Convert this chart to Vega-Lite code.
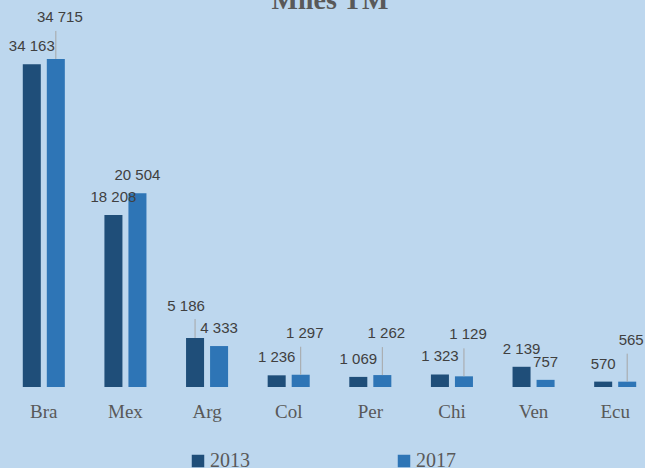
{
  "$schema": "https://vega.github.io/schema/vega-lite/v6.json",
  "autosize": "none",
  "width": 642,
  "height": 378,
  "padding": {"left": 3, "top": 9, "right": 0, "bottom": 81},
  "background": "#BDD7EE",
  "title": {
    "text": "Miles TM",
    "font": "Liberation Serif",
    "fontSize": 28,
    "fontWeight": "bold",
    "color": "#595959",
    "baseline": "alphabetic",
    "frame": "group",
    "offset": -28,
    "dx": 6,
    "anchor": "middle"
  },
  "data": {
    "values": [
      {"country": "Bra", "year": "2013", "value": 34163},
      {"country": "Bra", "year": "2017", "value": 34715},
      {"country": "Mex", "year": "2013", "value": 18208},
      {"country": "Mex", "year": "2017", "value": 20504},
      {"country": "Arg", "year": "2013", "value": 5186},
      {"country": "Arg", "year": "2017", "value": 4333},
      {"country": "Col", "year": "2013", "value": 1236},
      {"country": "Col", "year": "2017", "value": 1297},
      {"country": "Per", "year": "2013", "value": 1069},
      {"country": "Per", "year": "2017", "value": 1262},
      {"country": "Chi", "year": "2013", "value": 1323},
      {"country": "Chi", "year": "2017", "value": 1129},
      {"country": "Ven", "year": "2013", "value": 2139},
      {"country": "Ven", "year": "2017", "value": 757},
      {"country": "Ecu", "year": "2013", "value": 570},
      {"country": "Ecu", "year": "2017", "value": 565}
    ]
  },
  "encoding": {
    "x": {
      "field": "country",
      "type": "nominal",
      "sort": ["Bra", "Mex", "Arg", "Col", "Per", "Chi", "Ven", "Ecu"],
      "scale": {"range": [0, 653], "paddingInner": 0.485, "paddingOuter": 0.2425},
      "axis": {
        "title": null,
        "domain": false,
        "ticks": false,
        "labelAngle": 0,
        "labelPadding": 15,
        "labelFont": "Liberation Serif",
        "labelFontSize": 19,
        "labelColor": "#595959"
      }
    },
    "xOffset": {
      "field": "year",
      "type": "nominal",
      "scale": {"paddingInner": 0.25}
    },
    "y": {
      "field": "value",
      "type": "quantitative",
      "scale": {"domain": [0, 40000]},
      "axis": null
    }
  },
  "layer": [
    {
      "mark": {"type": "bar"},
      "encoding": {
        "color": {
          "field": "year",
          "type": "nominal",
          "scale": {"domain": ["2013", "2017"], "range": ["#1F4E79", "#2E75B6"]},
          "legend": {
            "title": null,
            "orient": "none",
            "direction": "horizontal",
            "legendX": 185,
            "legendY": 442,
            "padding": 0,
            "symbolType": "square",
            "symbolSize": 156,
            "symbolStrokeWidth": 0,
            "labelOffset": 2,
            "columnPadding": 144,
            "labelFont": "Liberation Serif",
            "labelFontSize": 20,
            "labelColor": "#595959"
          }
        }
      }
    },
    {
      "transform": [
        {"filter": "!((datum.year == '2017' && indexof(['Bra','Col','Per','Chi','Ecu'], datum.country) >= 0) || (datum.year == '2013' && datum.country == 'Arg'))"}
      ],
      "mark": {"type": "text", "baseline": "alphabetic", "align": "center", "dy": -13, "font": "Liberation Sans", "fontSize": 15, "color": "#404040"},
      "encoding": {"text": {"field": "value", "type": "quantitative", "format": ",d"}}
    },
    {
      "transform": [
        {"filter": "datum.year == '2017' && indexof(['Bra','Col','Per','Chi','Ecu'], datum.country) >= 0"}
      ],
      "mark": {"type": "text", "baseline": "alphabetic", "align": "center", "dx": 4, "dy": -37, "font": "Liberation Sans", "fontSize": 15, "color": "#404040"},
      "encoding": {"text": {"field": "value", "type": "quantitative", "format": ",d"}}
    },
    {
      "transform": [
        {"filter": "datum.year == '2013' && datum.country == 'Arg'"}
      ],
      "mark": {"type": "text", "baseline": "alphabetic", "align": "center", "dx": -9, "dy": -27, "font": "Liberation Sans", "fontSize": 15, "color": "#404040"},
      "encoding": {"text": {"field": "value", "type": "quantitative", "format": ",d"}}
    },
    {
      "transform": [
        {"filter": "(datum.year == '2017' && indexof(['Bra','Col','Per','Chi','Ecu'], datum.country) >= 0)"}
      ],
      "mark": {"type": "rule", "color": "#A6A6A6", "strokeWidth": 1, "y2Offset": -28},
      "encoding": {"y2": {"field": "value"}}
    },
    {
      "transform": [
        {"filter": "datum.year == '2013' && datum.country == 'Arg'"}
      ],
      "mark": {"type": "rule", "color": "#A6A6A6", "strokeWidth": 1, "y2Offset": -19},
      "encoding": {"y2": {"field": "value"}}
    }
  ],
  "config": {
    "view": {"stroke": null},
    "locale": {"number": {"decimal": ",", "thousands": " ", "grouping": [3], "currency": ["", ""]}}
  }
}
